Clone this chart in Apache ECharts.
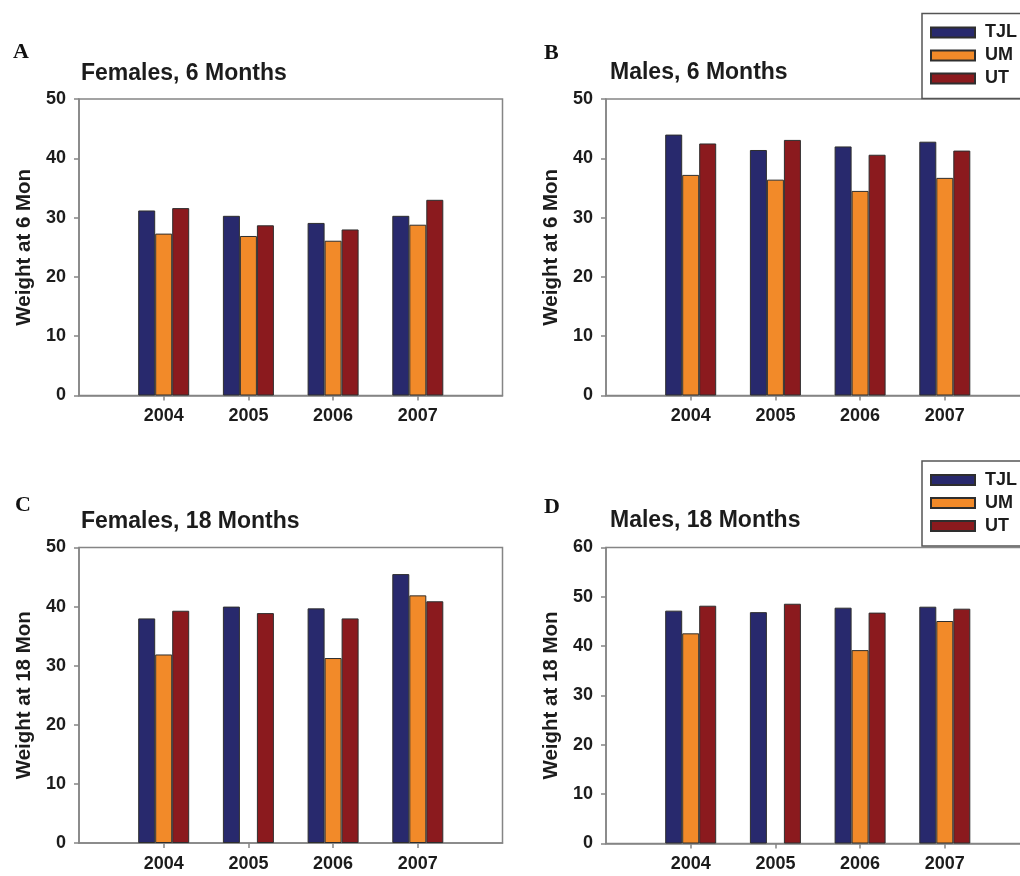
<!DOCTYPE html>
<html>
<head>
<meta charset="utf-8">
<title>Weight at 6 and 18 months</title>
<script src="https://cdn.jsdelivr.net/npm/echarts@6/dist/echarts.min.js"></script>
<style>
  html, body { margin: 0; padding: 0; background: #fff; }
  #chart { width: 1020px; height: 876px; }
</style>
</head>
<body>
<div id="chart"></div>
<script>
// Years shown on every panel
const years = [2004, 2005, 2006, 2007];
const groups = ['TJL', 'UM', 'UT'];

// Females, 6 months
const fem6TJL = [31.2, 30.3, 29.1, 30.3];
const fem6UM  = [27.3, 26.9, 26.1, 28.8];
const fem6UT  = [31.6, 28.7, 28.0, 33.0];

// Males, 6 months
const male6TJL = [44.0, 41.4, 42.0, 42.8];
const male6UM  = [37.2, 36.4, 34.5, 36.7];
const male6UT  = [42.5, 43.1, 40.6, 41.3];

// Females, 18 months (no UM value for 2005)
const fem18TJL = [38.0, 40.0, 39.7, 45.5];
const fem18UM  = [31.9, null, 31.3, 41.9];
const fem18UT  = [39.3, 38.9, 38.0, 40.9];

// Males, 18 months (no UM value for 2005)
const male18TJL = [47.2, 46.9, 47.8, 48.0];
const male18UM  = [42.6, null, 39.2, 45.1];
const male18UT  = [48.2, 48.6, 46.8, 47.6];

// Y-axis ranges and panel text
const yMaxes = [50, 50, 50, 60];
const panelLetters = ['A', 'B', 'C', 'D'];
const panelTitles = ['Females, 6 Months', 'Males, 6 Months', 'Females, 18 Months', 'Males, 18 Months'];
const yTitles = ['Weight at 6 Mon', 'Weight at 6 Mon', 'Weight at 18 Mon', 'Weight at 18 Mon'];

const panelData = [
  [fem6TJL, fem6UM, fem6UT],
  [male6TJL, male6UM, male6UT],
  [fem18TJL, fem18UM, fem18UT],
  [male18TJL, male18UM, male18UT]
];

const colors = { TJL: '#28296d', UM: '#f28a29', UT: '#8b1a1e' };
const FONT = '"Liberation Sans", Arial, Helvetica, sans-serif';
const SERIF = '"Liberation Serif", "Times New Roman", serif';
const AXIS_GRAY = '#858585';
const TEXT = '#1c1c1c';

// Plot boxes in pixels (the right-hand panels run past the page edge)
const boxes = [
  { left: 79,  top: 99,    width: 423.5, height: 296.5 },
  { left: 606, top: 99,    width: 423.5, height: 296.5 },
  { left: 79,  top: 547.5, width: 423.5, height: 295.5 },
  { left: 606, top: 547.5, width: 423.5, height: 296 }
];
const letterPos = [[13, 41], [544, 42.5], [15, 494], [544, 496]];
const titlePos = [[81, 62], [610, 61.5], [81, 510.5], [610, 509]];

const grid = [], xAxis = [], yAxis = [], series = [], graphic = [];

boxes.forEach((b, i) => {
  grid.push(Object.assign({
    show: true, borderColor: AXIS_GRAY, borderWidth: 1.5,
    backgroundColor: '#fff', containLabel: false, outerBoundsMode: 'none'
  }, b));

  xAxis.push({
    gridIndex: i, type: 'value', min: 2003, max: 2008, interval: 1,
    splitLine: { show: false },
    axisLine: { show: true, lineStyle: { color: AXIS_GRAY, width: 1.5 } },
    axisTick: { show: true, inside: false, length: 5, customValues: years,
                lineStyle: { color: AXIS_GRAY, width: 1.5 } },
    axisLabel: { show: true, customValues: years, margin: 12,
                 fontFamily: FONT, fontWeight: 'bold', fontSize: 18, color: TEXT,
                 formatter: v => String(v) }
  });

  yAxis.push({
    gridIndex: i, type: 'value', min: 0, max: yMaxes[i], interval: 10,
    name: yTitles[i], nameLocation: 'middle', nameGap: 44,
    nameTextStyle: { fontFamily: FONT, fontWeight: 'bold', fontSize: 20.5, color: TEXT },
    splitLine: { show: false },
    axisLine: { show: true, lineStyle: { color: AXIS_GRAY, width: 1.5 } },
    axisTick: { show: true, inside: false, length: 5, lineStyle: { color: AXIS_GRAY, width: 1.5 } },
    axisLabel: { margin: 13, fontFamily: FONT, fontWeight: 'bold', fontSize: 18, color: TEXT }
  });

  groups.forEach((g, k) => {
    series.push({
      name: g, type: 'bar', xAxisIndex: i, yAxisIndex: i,
      barWidth: 17, barGap: '0%',
      itemStyle: { color: colors[g], borderColor: '#2e2e2e', borderWidth: 1 },
      data: years.map((y, j) => [y, panelData[i][k][j] == null ? '-' : panelData[i][k][j]])
    });
  });

  graphic.push({
    type: 'text', left: letterPos[i][0], top: letterPos[i][1],
    style: { text: panelLetters[i], font: 'bold 22px ' + SERIF, fill: '#111' }
  });
  graphic.push({
    type: 'text', left: titlePos[i][0], top: titlePos[i][1],
    style: { text: panelTitles[i], font: 'bold 23px ' + FONT, fill: TEXT }
  });
});

// Legend frames: they continue past the right edge of the page
const legendFrames = [[922, 13.5, 85], [922, 461, 85]];
legendFrames.forEach(([x, y, h]) => {
  graphic.push({
    type: 'rect', z: 5, silent: true,
    shape: { x: x, y: y, width: 140, height: h },
    style: { fill: null, stroke: '#555', lineWidth: 1.5 }
  });
});

// Legend entries beside panels B and D
const legendCommon = {
  orient: 'vertical', data: groups, icon: 'rect',
  itemWidth: 44, itemHeight: 10, itemGap: 5,
  padding: [10, 10, 9, 8],
  borderWidth: 0,
  selectedMode: false,
  textStyle: { fontFamily: FONT, fontWeight: 'bold', fontSize: 18, color: TEXT,
               lineHeight: 18, padding: [0, 0, 0, 5] }
};
const legend = [
  Object.assign({ left: 922, top: 13.5 }, legendCommon),
  Object.assign({ left: 922, top: 461 }, legendCommon)
];

const chart = echarts.init(document.getElementById('chart'), null, { renderer: 'canvas' });
chart.setOption({
  backgroundColor: '#fff',
  animation: false,
  grid, xAxis, yAxis, series, legend, graphic
});
</script>
</body>
</html>
